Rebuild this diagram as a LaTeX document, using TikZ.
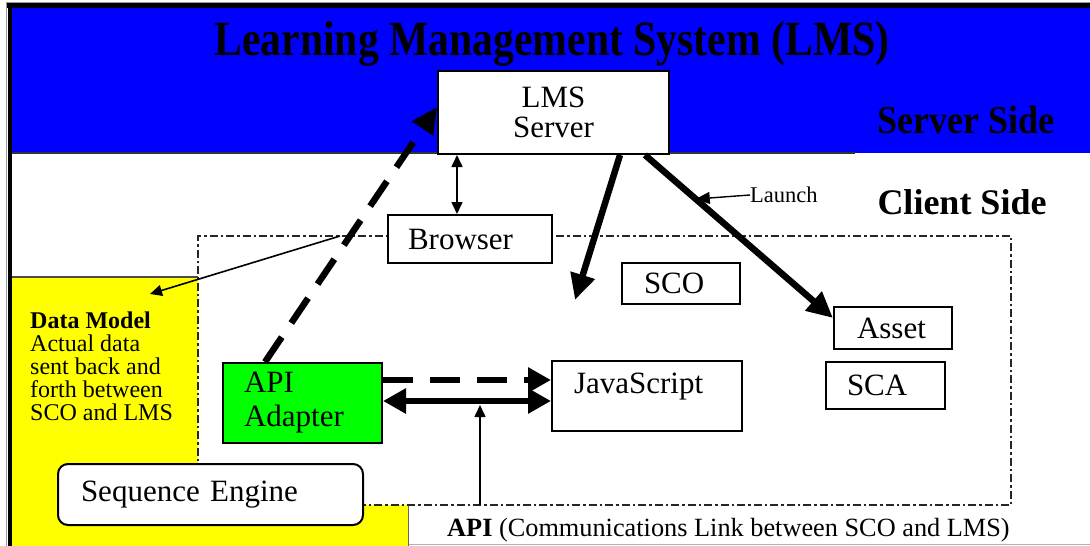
\documentclass[tikz,border=0pt]{standalone}
\usepackage{fontspec}
\setmainfont{Liberation Serif}
\usetikzlibrary{arrows.meta,calc}
\newcommand\fsz[2]{\fontsize{#1}{#2}\selectfont}
\definecolor{lmsblue}{RGB}{0,0,255}
\definecolor{adaptgreen}{RGB}{0,255,0}
\definecolor{dmyellow}{RGB}{255,255,0}
\tikzset{
  box/.style={draw=black, line width=2pt, fill=white, anchor=north west,
    align=left, inner ysep=0pt, font=\rmfamily\fsz{31}{30}},
  heavy/.style={line width=6.5pt, -{Triangle[length=26pt,width=24pt]}},
  heavydash/.style={heavy, dash pattern=on 30pt off 17pt},
  slim/.style={line width=1.6pt, -{Triangle[length=12pt,width=11pt]}},
  dashdot/.style={draw=black!85, line width=2.6pt, dash pattern=on 8pt off 3pt on 2.5pt off 3pt},
}
\begin{document}
\begin{tikzpicture}[x=1pt,y=-1pt]
\useasboundingbox (0,0) rectangle (1090,546);
% frame and coloured zones
\fill[white] (0,0) rectangle (1090,546);
\draw[black!40, line width=1pt] (6.5,546) -- (6.5,2.5) -- (1090,2.5);
\fill[black] (7,3) rectangle (1090,8);
\fill[black] (8,3) rectangle (12,546);
\fill[lmsblue] (12,8) rectangle (1090,153);
\draw[black!80, line width=1.5pt] (12,153) -- (855,153);
\fill[dmyellow] (12,277) -- (198,277) -- (198,505) -- (408,505) -- (408,546) -- (12,546) -- cycle;
\draw[black!70, line width=1.2pt] (12,277) -- (198,277);
\draw[black!30, line width=1pt] (408,544) -- (1090,544);
\draw[black!60, line width=1pt] (408,505) -- (408,546);

% client-side content area
\draw[dashdot] (198,505) -- (198,236) -- (1011,236) -- (1011,505) -- cycle;

% headings
\node[font=\bfseries\fsz{41.7}{42}] (title) at (552,44)
  {\scalebox{1}[1.18]{Learning Management System (LMS)}};
\node[font=\bfseries\fsz{36}{36}] (serverside) at (966,120)
  {\scalebox{1}[1.1]{Server Side}};
\node[font=\bfseries\fsz{36}{36}] (clientside) at (962,202) {Client Side};

% boxes
\node[box, align=center, inner xsep=0pt, minimum width=231pt, minimum height=83pt] (lms) at (437,70) {LMS\\Server};
\node[box, inner xsep=20pt, text width=124pt, minimum height=48pt] (browser) at (387,214) {Browser};
\node[box, inner xsep=22pt, text width=74pt, minimum height=41pt] (sco) at (621,262) {SCO};
\node[box, inner xsep=23pt, text width=72pt, minimum height=42pt] (asset) at (833,306) {Asset};
\node[box, inner xsep=21pt, text width=77pt, minimum height=47pt] (sca) at (825,361) {SCA};
\node[box, inner xsep=22pt, text width=146pt, minimum height=70pt] (js) at (551,360) {JavaScript\\[-14pt]\strut};
\node[box, fill=adaptgreen, inner xsep=21pt, text width=117pt, minimum height=80pt,
  font=\rmfamily\fsz{31}{34}] (api) at (222,362) {API\\Adapter};
\node[box, rounded corners=10pt, inner xsep=23pt, text width=259pt, minimum height=61pt] (seq) at (57,463) {Sequence Engine};

% texts
\node[anchor=north west, align=left, inner sep=0pt, font=\fsz{24}{23}] (datamodel) at (30,312)
  {\textbf{Data Model}\\Actual data\\sent back and\\forth between\\SCO and LMS};
\node[anchor=base west, inner sep=0pt, font=\fsz{26.3}{26}] (apilink) at (447,536)
  {\textbf{API} (Communications Link between SCO and LMS)};
\node[anchor=west, inner sep=0pt, font=\fsz{22.5}{22}] (launch) at (750,195) {Launch};

% connectors
\coordinate (jsdrop) at (575,300);
\coordinate (dmfrom) at (340,236);
\coordinate (dmto) at (150,294);
\coordinate (apifoot) at (480,505);
\coordinate (apihead) at (480,405);
\coordinate (lA) at ($(lms.south west)+(208,0)$);
\coordinate (lB) at ($(asset.north west)+(0,12)$);

\draw[heavydash] ($(api.north west)+(43,0)$) -- ($(lms.north west)+(0,37)$);
\draw[line width=1.6pt, {Triangle[length=12pt,width=11pt]}-{Triangle[length=12pt,width=11pt]}]
  ($(lms.south west)+(20,0)$) -- ($(browser.north west)+(70,0)$);
\draw[heavy] ($(lms.south west)+(183,0)$) -- (jsdrop);
\draw[heavy] (lA) -- (lB);
\draw[line width=1.4pt, -{Triangle[length=14pt,width=12pt]}] (launch.west) -- ($(lA)!0.27!(lB)$);
\draw[slim] (dmfrom) -- (dmto);
\draw[heavydash, line width=6pt, -{Triangle[length=23pt,width=24pt]}]
  ($(api.north east)+(0,18)$) -- ($(js.north west)+(0,20)$);
\draw[line width=6pt, {Triangle[length=23pt,width=24pt]}-{Triangle[length=23pt,width=24pt]}]
  ($(api.north east)+(0,39)$) -- ($(js.north west)+(0,41)$);
\draw[slim] (apifoot) -- (apihead);
\end{tikzpicture}
\end{document}
